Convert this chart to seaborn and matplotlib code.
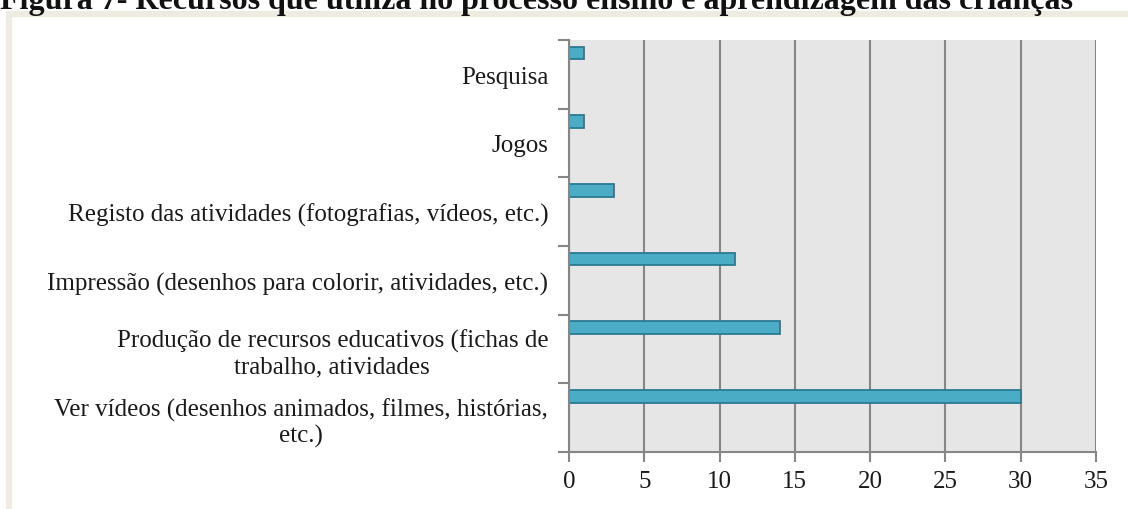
import matplotlib
matplotlib.use("Agg")
import matplotlib.pyplot as plt
import seaborn as sns
import pandas as pd
from matplotlib.patches import Rectangle

# ── Data ──────────────────────────────────────────────────────────────────────
categories = [
    "Pesquisa",
    "Jogos",
    "Registo das atividades (fotografias, vídeos, etc.)",
    "Impressão (desenhos para colorir, atividades, etc.)",
    "Produção de recursos educativos (fichas de\ntrabalho, atividades",
    "Ver vídeos (desenhos animados, filmes, histórias,\netc.)",
]
values = [1, 1, 3, 11, 14, 30]
x_ticks = [0, 5, 10, 15, 20, 25, 30, 35]
title = "Figura 7- Recursos que utiliza no processo ensino e aprendizagem das crianças"

# ── Style ─────────────────────────────────────────────────────────────────────
sns.set_theme(style="white")
plt.rcParams["font.family"] = ["Liberation Serif", "DejaVu Serif"]

BAR_FILL  = "#4BACC6"
BAR_EDGE  = "#2A7A92"
PLOT_BG   = "#E6E6E6"
GRID      = "#868686"
FRAME     = "#EEECE1"
TEXT      = "#1A1A1A"

df = pd.DataFrame({"Recurso": categories, "Total": values})

fig = plt.figure(figsize=(11.28, 5.10), dpi=100)
ax = fig.add_axes([569 / 1128, 57 / 510, 527 / 1128, 412 / 510])

sns.barplot(data=df, x="Total", y="Recurso", orient="h", width=0.185,
            color=BAR_FILL, edgecolor=BAR_EDGE, linewidth=1.3,
            saturation=1, ax=ax)

# bars sit near the top of each category band (Excel-style offset)
for p in ax.patches:
    p.set_y(p.get_y() - 0.31)

ax.set_facecolor(PLOT_BG)
ax.set_xlim(0, 35)
ax.set_ylim(len(categories) - 0.5, -0.5)
ax.set_xticks(x_ticks)
ax.set_xticklabels([str(t) for t in x_ticks], fontsize=18)
ax.xaxis.grid(True, color=GRID, linewidth=1.5)
ax.set_axisbelow(True)
ax.set_xlabel("")
ax.set_ylabel("")

# category labels centred in band, tick marks on band boundaries
ax.set_yticks(range(len(categories)))
ax.set_yticklabels(categories, fontsize=18, multialignment="center")
ax.tick_params(axis="y", length=0, pad=15, labelcolor=TEXT)
ax.set_yticks([i - 0.5 for i in range(len(categories) + 1)], minor=True)
ax.tick_params(axis="y", which="minor", length=8, width=1.5, color=GRID, left=True)
ax.tick_params(axis="x", length=7, width=1.5, color=GRID, bottom=True, pad=6,
               labelcolor=TEXT)

for side in ["top", "right"]:
    ax.spines[side].set_visible(False)
for side in ["left", "bottom"]:
    ax.spines[side].set_color(GRID)
    ax.spines[side].set_linewidth(1.5)

# beige chart-area frame, running off the right and bottom edges
fig.patches.append(Rectangle((9 / 1128, -0.1), 1.2, 1 - 15 / 510 + 0.1,
                             transform=fig.transFigure, fill=False,
                             edgecolor=FRAME, linewidth=4.5))

fig.text(0.0, 1 - 9 / 510, title, ha="left", va="baseline",
         fontsize=23, fontweight="bold", color="#111111")

fig.savefig("out.png", dpi=100, facecolor="white")
